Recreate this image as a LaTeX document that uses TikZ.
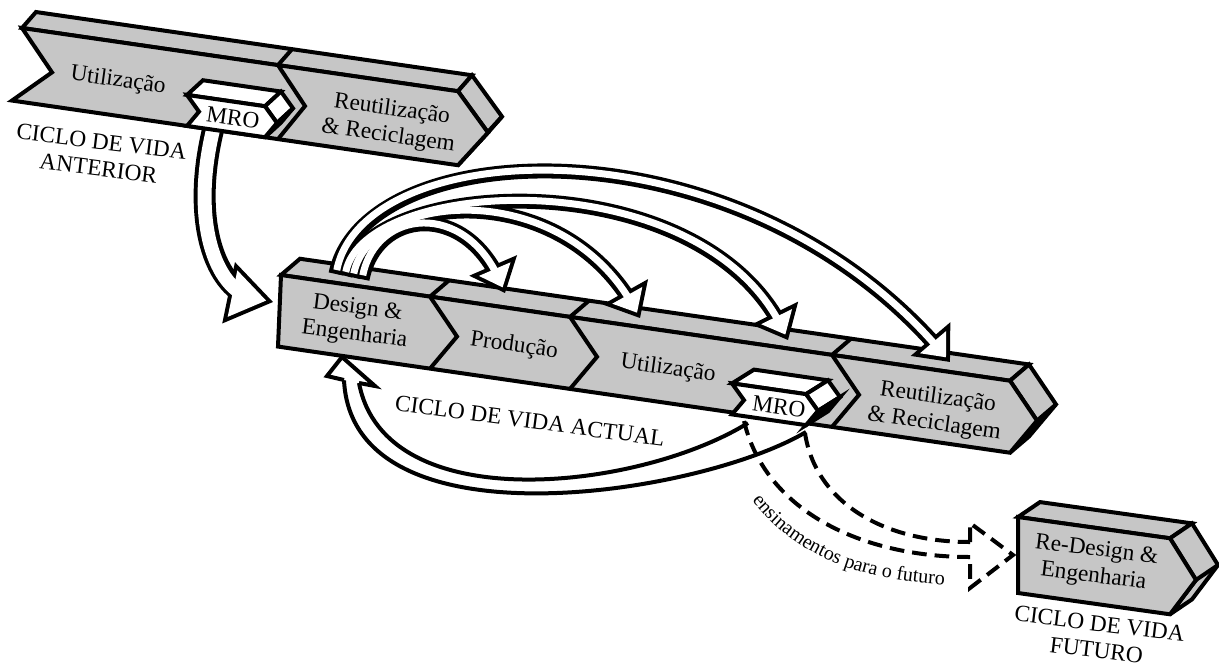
\documentclass[tikz,border=0pt]{standalone}
\usepackage{fontspec}
\setmainfont{Liberation Serif}
\usetikzlibrary{decorations.markings,decorations.text}
\definecolor{barfill}{HTML}{C6C6C6}
\begin{document}
\begin{tikzpicture}[x=0.75pt,y=-0.75pt,
  bar/.style={draw=black, fill=barfill, line width=3pt, line join=miter, miter limit=4},
  barln/.style={draw=black, line width=3pt, line join=miter},
  mrof/.style={draw=black, fill=white, line width=3pt, line join=miter, miter limit=4},
  mrod/.style={draw=black, fill=black, line width=3pt, line join=miter},
  lbl/.style={font=\fontsize{17.5}{20}\selectfont, align=center, inner sep=0pt},
  ln/.style={draw=black, line width=3pt},
  dsh/.style={draw=black, line width=3pt, dash pattern=on 11pt off 6pt},
  tB/.style={draw=black, line width=11.25pt, shorten >=8pt},
  tW/.style={draw=white, line width=5.25pt, shorten >=10pt, shorten <=3pt},
  tBh/.style={decorate, decoration={markings, mark=at position 0.9999 with {\fill[black] (0pt,0pt)--(-22.5pt,19.5pt)--(-22.5pt,-19.5pt)--cycle;}}},
  tWh/.style={decorate, decoration={markings, mark=at position 0.9999 with {\fill[white] (-4.6pt,0pt)--(-19.5pt,12.9pt)--(-19.5pt,-12.9pt)--cycle;}}},
  bB/.style={draw=black, line width=16.5pt, shorten >=13pt},
  bW/.style={draw=white, line width=10.5pt, shorten >=15pt},
  bBh/.style={decorate, decoration={markings, mark=at position 0.9999 with {\fill[black] (0pt,0pt)--(-34pt,23.5pt)--(-34pt,-23.5pt)--cycle;}}},
  bWh/.style={decorate, decoration={markings, mark=at position 0.9999 with {\fill[white] (-5.3pt,0pt)--(-31pt,17.8pt)--(-31pt,-17.8pt)--cycle;}}}
]
\useasboundingbox (0,0) rectangle (1219,668);

% ---------- previous life cycle bar ----------
\begin{scope}[shift={(22,28)}, yslant=-0.145]
  \path[bar] (0,0) -- (436,0) -- (450,-18) -- (14,-18) -- cycle;
  \path[bar] (436,0) -- (450,-18) -- (480,19) -- (450,56) -- (436,74) -- (466,37) -- cycle;
  \draw[barln] (466,37) -- (480,19);
  \path[bar] (0,0) -- (436,0) -- (466,37) -- (436,74) -- (-10,74) -- (30,40) -- cycle;
  \draw[barln] (256,0) -- (283,37) -- (256,74);
  \draw[barln] (256,0) -- (270,-18);
\end{scope}

% ---------- current life cycle bar ----------
\begin{scope}[shift={(281,275)}, yslant=-0.145]
  \path[bar] (0,0) -- (729,0) -- (748,-19) -- (19,-19) -- cycle;
  \path[bar] (729,0) -- (748,-19) -- (775,17) -- (748,53) -- (729,72) -- (756,36) -- cycle;
  \draw[barln] (756,36) -- (775,17);
  \path[bar] (0,0) -- (729,0) -- (756,36) -- (729,72) -- (-3,72) -- cycle;
  \foreach \b in {149,289,551}{
    \draw[barln] (\b,0) -- (\b+27,36) -- (\b,72);
    \draw[barln] (\b,0) -- (\b+19,-19);
  }
\end{scope}

% ---------- future life cycle bar ----------
\begin{scope}[shift={(1018,517)}, yslant=-0.14]
  \path[bar] (0,0) -- (152,0) -- (174,-18) -- (22,-18) -- cycle;
  \path[bar] (152,0) -- (174,-18) -- (200,20) -- (174,58) -- (152,76) -- (178,38) -- cycle;
  \draw[barln] (178,38) -- (200,20);
  \path[bar] (0,0) -- (152,0) -- (178,38) -- (152,76) -- (0,76) -- cycle;
\end{scope}

% ---------- arrow from previous MRO to Design ----------
\coordinate (oS) at (214,126);
\coordinate (oE) at (273,302);
\def\pO{(oS) .. controls (190,220) and (215,290) .. (oE)}
\draw[bB] \pO; \path[bBh] \pO;
\draw[bW] \pO; \path[bWh] \pO;

% ---------- fan of arrows from Design ----------
\coordinate (rS) at (336,274);   \coordinate (rE) at (950,362);
\coordinate (mS) at (345,275.8); \coordinate (mE) at (788,340);
\coordinate (uS) at (353,277.4); \coordinate (uE) at (640,318);
\coordinate (pS) at (362,279.2); \coordinate (pE) at (505,293);
\def\pR{(rS) .. controls (364,134) and (740,115) .. (rE)}
\def\pM{(mS) .. controls (365,175.8) and (700,160) .. (mE)}
\def\pU{(uS) .. controls (370,192.4) and (560,175) .. (uE)}
\def\pP{(pS) .. controls (376,209.2) and (465,200) .. (pE)}
\draw[tB] \pR; \path[tBh] \pR;
\draw[tB] \pM; \path[tBh] \pM;
\draw[tB] \pU; \path[tBh] \pU;
\draw[tB] \pP; \path[tBh] \pP;
\draw[tW] \pR; \path[tWh] \pR;
\draw[tW] \pM; \path[tWh] \pM;
\draw[tW] \pU; \path[tWh] \pU;
\draw[tW] \pP; \path[tWh] \pP;

% ---------- return arrow MRO -> Design ----------
\coordinate (lH1) at (344,380); \coordinate (lH2) at (359,383);
\coordinate (m1) at (748,423);  \coordinate (m2) at (806,432);
\draw[ln] (lH2) .. controls (385,520) and (640,490) .. (m1);
\draw[ln] (lH1) .. controls (352,550) and (700,495) .. (m2);
\path[draw=black, fill=white, line width=3pt, line join=miter] (lH1) -- (327,376) -- (342,357) -- (375,386) -- (lH2);

% ---------- dashed arrow to future ----------
\coordinate (d1s) at (744,421); \coordinate (d2s) at (805,433);
\coordinate (d1e) at (970,557); \coordinate (d2e) at (970,542);
\draw[dsh] (d1s) .. controls (765,510) and (860,557) .. (d1e);
\draw[dsh] (d2s) .. controls (815,500) and (880,542) .. (d2e);
\draw[dsh] (d2e) -- (970,523) -- (1013,555) -- (970,588) -- (d1e);
{\fontsize{15}{15}\selectfont
\path[decorate, decoration={text along path, text align=center,
   text={ensinamentos para o futuro}}]
   (742,486) .. controls (785,554) and (860,584) .. (962,585);
}

% ---------- MRO boxes ----------
\begin{scope}[shift={(22,28)}, yslant=-0.145]
  \path[mrof] (165,43) -- (243,43) -- (259,26) -- (181,26) -- cycle;
  \path[mrof] (243,43) -- (259,26) -- (271,41) -- (255,58) -- cycle;
  \path[mrod] (255,58) -- (271,41) -- (259,57) -- (243,74) -- cycle;
  \path[mrof] (165,43) -- (243,43) -- (255,58) -- (243,74) -- (165,74) -- (177,58) -- cycle;
\end{scope}
\begin{scope}[shift={(281,275)}, yslant=-0.145]
  \path[mrof] (451,43) -- (525,43) -- (547,26) -- (473,26) -- cycle;
  \path[mrof] (525,43) -- (547,26) -- (559,41) -- (537,58) -- cycle;
  \path[mrod] (537,58) -- (559,41) -- (547,57) -- (525,74) -- cycle;
  \path[mrof] (451,43) -- (525,43) -- (537,58) -- (525,74) -- (451,74) -- (463,58) -- cycle;
\end{scope}

% ---------- labels ----------
\node[lbl, rotate=-8] (tOU) at (118,81) {Utilização};
\node[lbl, rotate=-8] (tOR) at (390,123) {Reutilização\\\& Reciclagem};
\node[lbl, rotate=-8] (tOM) at (233,118) {MRO};
\node[lbl, rotate=-7] (tOC) at (100,155) {CICLO DE VIDA\\ANTERIOR};
\node[lbl, rotate=-7] (tD)  at (356,322) {Design \&\\Engenharia};
\node[lbl, rotate=-8] (tP)  at (514,346) {Produção};
\node[lbl, rotate=-8] (tU)  at (668,369) {Utilização};
\node[lbl, rotate=-8] (tR)  at (936,411) {Reutilização\\\& Reciclagem};
\node[lbl, rotate=-8] (tM)  at (779,407) {MRO};
\node[lbl, rotate=-7.5] (tC) at (530,421) {CICLO DE VIDA ACTUAL};
\node[lbl, rotate=-7] (tF)  at (1095,564) {Re-Design \&\\Engenharia};
\node[lbl, rotate=-7] (tFC) at (1098,637) {CICLO DE VIDA\\FUTURO};
\end{tikzpicture}
\end{document}
